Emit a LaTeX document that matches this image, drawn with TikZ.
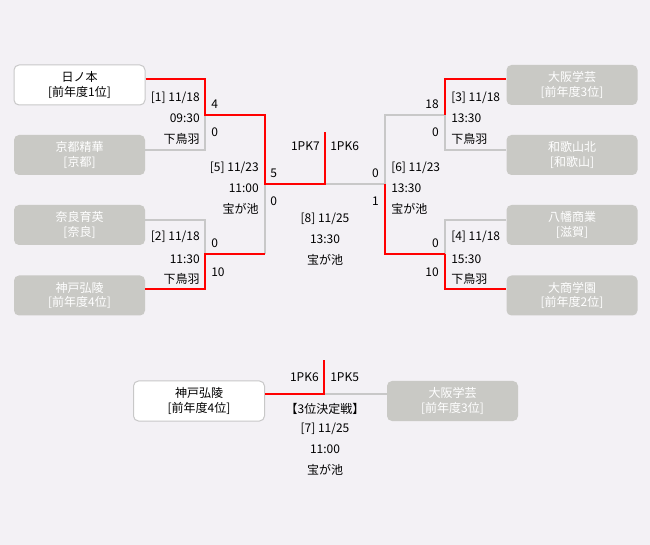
\documentclass[tikz,border=0pt]{standalone}
\usepackage{fontspec}
\setmainfont{Noto Sans CJK JP}
\definecolor{bg}{RGB}{243,241,245}
\definecolor{boxg}{RGB}{201,201,197}
\definecolor{lineg}{RGB}{200,200,200}
\definecolor{wred}{RGB}{255,0,0}
\begin{document}
\begin{tikzpicture}[x=0.75pt,y=-0.75pt,
  team/.style={rounded corners=3.75pt, minimum width=131*0.75pt, minimum height=40*0.75pt,
    inner sep=0pt, align=center, font=\fontsize{9pt}{10.8pt}\selectfont},
  teamw/.style={team, fill=white, draw=lineg, line width=0.75pt},
  teamg/.style={team, fill=boxg, text=white},
  win/.style={draw=wred, line width=1.5pt},
  lose/.style={draw=lineg, line width=1.5pt},
  lbl/.style={inner sep=0pt, font=\fontsize{9pt}{10.8pt}\selectfont}
]
\fill[bg] (0,0) rectangle (650,545);
\useasboundingbox (0,0) rectangle (650,545);

% teams
\node[teamw] (b1) at (79.5,85) {日ノ本\\{[}前年度1位]};
\node[teamg] (b2) at (79.5,155) {京都精華\\{[}京都]};
\node[teamg] (b3) at (79.5,225) {奈良育英\\{[}奈良]};
\node[teamg] (b4) at (79.5,295.5) {神戸弘陵\\{[}前年度4位]};
\node[teamg] (b5) at (572,85) {大阪学芸\\{[}前年度3位]};
\node[teamg] (b6) at (572,155) {和歌山北\\{[}和歌山]};
\node[teamg] (b7) at (572,225) {八幡商業\\{[}滋賀]};
\node[teamg] (b8) at (572,295.5) {大商学園\\{[}前年度2位]};
\node[teamw] (t1) at (199,401) {神戸弘陵\\{[}前年度4位]};
\node[teamg] (t2) at (452.5,401) {大阪学芸\\{[}前年度3位]};

% junction coordinates
\coordinate (m1t) at (205,79);  \coordinate (m1b) at (205,150); \coordinate (m1) at (205,115);
\coordinate (m2t) at (205,220); \coordinate (m2b) at (205,289); \coordinate (m2) at (205,254);
\coordinate (m5t) at (265,115); \coordinate (m5b) at (265,254); \coordinate (m5) at (265,184);
\coordinate (f) at (325,184);   \coordinate (ftop) at (325,132);
\coordinate (m6t) at (385,115); \coordinate (m6b) at (385,254); \coordinate (m6) at (385,184);
\coordinate (m3t) at (445,79);  \coordinate (m3b) at (445,150); \coordinate (m3) at (445,115);
\coordinate (m4t) at (445,220); \coordinate (m4b) at (445,289); \coordinate (m4) at (445,254);
\coordinate (tj) at (324,394);  \coordinate (ttop) at (324,360);

% losing paths
\draw[lose] (b2.east |- m1b) -- (m1b) -- (m1);
\draw[lose] (b3.east |- m2t) -- (m2t) -- (m2);
\draw[lose] (m5b) -- (m5);
\draw[lose] (f) -- (m6);
\draw[lose] (m6) -- (m6t) -- (m3);
\draw[lose] (b6.west |- m3b) -- (m3b) -- (m3);
\draw[lose] (b7.west |- m4t) -- (m4t) -- (m4);
\draw[lose] (tj) -- (t2.west |- tj);

% winning paths
\draw[win] (b1.east |- m1t) -- (m1t) -- (m1) -- (m5t) -- (m5) -- (f) -- (ftop);
\draw[win] (b4.east |- m2b) -- (m2b) -- (m2) -- (m5b);
\draw[win] (m6) -- (m6b) -- (m4);
\draw[win] (b5.west |- m3t) -- (m3t) -- (m3);
\draw[win] (b8.west |- m4b) -- (m4b) -- (m4);
\draw[win] (t1.east |- tj) -- (tj) -- (ttop);

% match [1]
\node[lbl,anchor=east] (l1a) at (200,98) {[1] 11/18};
\node[lbl,anchor=east] (l1b) at (200,118) {09:30};
\node[lbl,anchor=east] (l1c) at (200,139) {下鳥羽};
\node[lbl,anchor=west] (s1a) at (211,104) {4};
\node[lbl,anchor=west] (s1b) at (211,132) {0};
% match [5]
\node[lbl,anchor=east] (l5a) at (259,168) {[5] 11/23};
\node[lbl,anchor=east] (l5b) at (259,188) {11:00};
\node[lbl,anchor=east] (l5c) at (259,209) {宝が池};
\node[lbl,anchor=west] (s5a) at (270,173) {5};
\node[lbl,anchor=west] (s5b) at (270,201) {0};
% match [2]
\node[lbl,anchor=east] (l2a) at (200,237) {[2] 11/18};
\node[lbl,anchor=east] (l2b) at (200,259) {11:30};
\node[lbl,anchor=east] (l2c) at (200,279) {下鳥羽};
\node[lbl,anchor=west] (s2a) at (211,243) {0};
\node[lbl,anchor=west] (s2b) at (211,272) {10};
% final [8]
\node[lbl,anchor=east] (p8a) at (320,146) {1PK7};
\node[lbl,anchor=west] (p8b) at (330,146) {1PK6};
\node[lbl] (l8a) at (325,219) {[8] 11/25};
\node[lbl] (l8b) at (325,239) {13:30};
\node[lbl] (l8c) at (325,260) {宝が池};
% match [6]
\node[lbl,anchor=west] (l6a) at (391,168) {[6] 11/23};
\node[lbl,anchor=west] (l6b) at (391,188) {13:30};
\node[lbl,anchor=west] (l6c) at (391,209) {宝が池};
\node[lbl,anchor=east] (s6a) at (379,173) {0};
\node[lbl,anchor=east] (s6b) at (379,201) {1};
% match [3]
\node[lbl,anchor=west] (l3a) at (451,98) {[3] 11/18};
\node[lbl,anchor=west] (l3b) at (451,118) {13:30};
\node[lbl,anchor=west] (l3c) at (451,139) {下鳥羽};
\node[lbl,anchor=east] (s3a) at (439,104) {18};
\node[lbl,anchor=east] (s3b) at (439,132) {0};
% match [4]
\node[lbl,anchor=west] (l4a) at (451,237) {[4] 11/18};
\node[lbl,anchor=west] (l4b) at (451,259) {15:30};
\node[lbl,anchor=west] (l4c) at (451,279) {下鳥羽};
\node[lbl,anchor=east] (s4a) at (439,243) {0};
\node[lbl,anchor=east] (s4b) at (439,272) {10};
% third place [7]
\node[lbl,anchor=east] (p7a) at (319,377) {1PK6};
\node[lbl,anchor=west] (p7b) at (330,377) {1PK5};
\node[lbl] (l7a) at (325,409) {【3位決定戦】};
\node[lbl] (l7b) at (325,429) {[7] 11/25};
\node[lbl] (l7c) at (325,449) {11:00};
\node[lbl] (l7d) at (325,470) {宝が池};
\end{tikzpicture}
\end{document}
